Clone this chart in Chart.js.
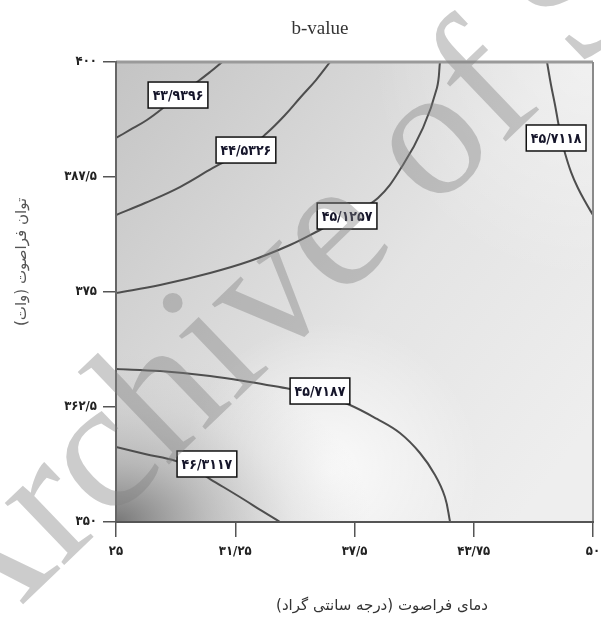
<!DOCTYPE html>
<html>
<head>
<meta charset="utf-8">
<script src="https://cdn.jsdelivr.net/npm/chart.js@4.4.1/dist/chart.umd.min.js"></script>
<style>
  html, body { margin: 0; padding: 0; background: #fff; }
  #wrap { width: 601px; height: 622px; }
</style>
</head>
<body>
<div id="wrap"><canvas id="c" width="601" height="622"></canvas></div>
<script>
// ---- axis ticks ----
const xTickValues = [25, 31.25, 37.5, 43.75, 50];
const xTickLabels = ['۲۵', '۳۱/۲۵', '۳۷/۵', '۴۳/۷۵', '۵۰'];
const yTickValues = [350, 362.5, 375, 387.5, 400];
const yTickLabels = ['۳۵۰', '۳۶۲/۵', '۳۷۵', '۳۸۷/۵', '۴۰۰'];

// ---- contour levels of b-value ----
const contourLevels = [43.9396, 44.5326, 45.1257, 45.7118, 45.7187, 46.3117];

// ---- contour lines: [temperature (°C), power (W)] ----
const contour1 = [[25, 391.74], [25.73, 392.61], [26.62, 393.70], [27.46, 395.00], [28.25, 396.41],
                  [29.25, 397.83], [29.93, 398.91], [30.56, 400]];
const contour2 = [[25, 383.37], [26.52, 384.67], [28.35, 386.41], [30.08, 388.48], [31.81, 390.43],
                  [32.91, 392.28], [33.86, 394.24], [34.64, 396.09], [35.48, 398.04], [36.22, 400]];
const contour3 = [[25, 374.89], [27.31, 375.76], [29.93, 377.07], [32.02, 378.37], [34.12, 380.11],
                  [35.69, 381.74], [37.11, 383.26], [38.73, 385.22], [40.04, 388.80], [41.09, 392.83],
                  [41.82, 397.17], [41.98, 400]];
const contour4 = [[47.59, 400], [47.80, 397.50], [48.01, 395.33], [48.17, 393.48], [48.33, 391.74],
                  [48.53, 390.11], [48.85, 388.04], [49.21, 386.30], [49.63, 384.67], [50, 383.37]];
const contour5 = [[25, 366.63], [27.31, 366.41], [29.93, 365.87], [32.02, 365.22], [34.12, 364.46],
                  [35.69, 363.91], [37.26, 362.72], [38.68, 361.20], [39.88, 359.67], [40.93, 357.50],
                  [41.72, 355.11], [42.24, 352.72], [42.51, 350]];
const contour6 = [[25, 358.15], [26.52, 357.39], [28.14, 356.63], [28.98, 355.87], [29.93, 354.67],
                  [31.66, 352.50], [32.65, 351.20], [33.60, 350]];

// vertex of each line that carries its level label
const labelVertex = [4, 4, 6, 4, 5, 3];

const contourLines = [contour1, contour2, contour3, contour4, contour5, contour6];

const FA_DIGITS = '۰۱۲۳۴۵۶۷۸۹';
const toPersian = v => String(v).replace('.', '/').replace(/[0-9]/g, d => FA_DIGITS[d]);

const NUM_FONT = "'DejaVu Sans Condensed', 'DejaVu Sans', sans-serif";
const FA_FONT = "'DejaVu Sans', sans-serif";

function fillRadial(ctx, cx, cy, r, stops) {
  const g = ctx.createRadialGradient(cx, cy, 0, cx, cy, r);
  stops.forEach(([o, c]) => g.addColorStop(o, c));
  ctx.fillStyle = g;
  ctx.fillRect(cx - r, cy - r, 2 * r, 2 * r);
}

// grey shading of the response surface behind the contour lines
const shading = {
  id: 'shading',
  beforeDraw(chart) {
    const { ctx, chartArea: a } = chart;
    ctx.save();
    ctx.fillStyle = '#ffffff';
    ctx.fillRect(0, 0, chart.width, chart.height);
    ctx.beginPath();
    ctx.rect(a.left, a.top, a.width, a.height);
    ctx.clip();
    const g = ctx.createLinearGradient(a.left, a.top, a.right, a.top + a.height * 0.78);
    g.addColorStop(0, '#c4c4c4');
    g.addColorStop(0.3, '#d4d4d4');
    g.addColorStop(0.6, '#e4e4e4');
    g.addColorStop(1, '#eeeeee');
    ctx.fillStyle = g;
    ctx.fillRect(a.left, a.top, a.width, a.height);
    // pale region in the lower middle
    fillRadial(ctx, a.left + a.width * 0.45, a.top + a.height * 0.89, 150,
      [[0, 'rgba(255,255,255,0.8)'], [1, 'rgba(255,255,255,0)']]);
    // pale upper-right corner
    fillRadial(ctx, a.right, a.top, 220,
      [[0, 'rgba(255,255,255,0.45)'], [1, 'rgba(255,255,255,0)']]);
    // dark lower-left corner
    ctx.save();
    ctx.translate(a.left, a.bottom);
    ctx.scale(1.5, 1);
    fillRadial(ctx, 0, 0, 170, [
      [0, 'rgba(110,110,110,0.92)'],
      [0.35, 'rgba(155,155,155,0.55)'],
      [0.7, 'rgba(185,185,185,0.2)'],
      [1, 'rgba(200,200,200,0)']
    ]);
    ctx.restore();
    ctx.restore();
  }
};

// plot frame
const frame = {
  id: 'frame',
  afterDatasetsDraw(chart) {
    const { ctx, chartArea: a } = chart;
    ctx.save();
    const seg = (x1, y1, x2, y2, c, w) => {
      ctx.strokeStyle = c; ctx.lineWidth = w;
      ctx.beginPath(); ctx.moveTo(x1, y1); ctx.lineTo(x2, y2); ctx.stroke();
    };
    seg(a.left, a.top, a.right, a.top, '#9a9a9a', 3);
    seg(a.right, a.top, a.right, a.bottom, '#8a8a8a', 2);
    seg(a.left, a.top - 1, a.left, a.bottom + 1, '#666666', 2);
    seg(a.left - 1, a.bottom, a.right + 1, a.bottom, '#555555', 2);
    ctx.restore();
  }
};

// boxed level labels sitting on the contour lines
const levelLabels = {
  id: 'levelLabels',
  afterDatasetsDraw(chart, args, opts) {
    const { ctx } = chart;
    const xs = chart.scales.x, ys = chart.scales.y;
    ctx.save();
    ctx.font = 'bold 14px ' + NUM_FONT;
    ctx.textAlign = 'center';
    ctx.textBaseline = 'middle';
    contourLines.forEach((pts, i) => {
      const p = pts[labelVertex[i]];
      const nudge = opts.nudge[i] || [0, 0];
      const cx = xs.getPixelForValue(p[0]) + nudge[0];
      const cy = ys.getPixelForValue(p[1]) + nudge[1];
      const text = toPersian(contourLevels[i]);
      const w = ctx.measureText(text).width + 9;
      const h = 26;
      ctx.fillStyle = '#ffffff';
      ctx.fillRect(cx - w / 2, cy - h / 2, w, h);
      ctx.strokeStyle = '#111111';
      ctx.lineWidth = 1.5;
      ctx.strokeRect(cx - w / 2, cy - h / 2, w, h);
      ctx.fillStyle = '#15152a';
      ctx.fillText(text, cx, cy + 1);
    });
    ctx.restore();
  }
};

// chart title and axis titles
const titles = {
  id: 'titles',
  afterDraw(chart) {
    const { ctx } = chart;
    ctx.save();
    ctx.textAlign = 'center';
    ctx.textBaseline = 'middle';
    ctx.fillStyle = '#333333';
    ctx.font = '19px "Liberation Serif", "Times New Roman", serif';
    ctx.fillText('b-value', 320, 29);

    ctx.direction = 'rtl';
    ctx.font = '15px ' + FA_FONT;
    ctx.fillStyle = '#333333';
    ctx.fillText('دمای فراصوت (درجه سانتی گراد)', 382, 606);

    ctx.translate(22, 262);
    ctx.rotate(-Math.PI / 2);
    ctx.fillStyle = '#555555';
    ctx.fillText('توان فراصوت (وات)', 0, 0);
    ctx.restore();
  }
};

// archive watermark across the page
const watermark = {
  id: 'watermark',
  afterDraw(chart) {
    const { ctx } = chart;
    ctx.save();
    ctx.translate(-36, 661);
    ctx.rotate(-43.8 * Math.PI / 180);
    ctx.font = '187px "Liberation Serif", "Times New Roman", serif';
    ctx.textAlign = 'left';
    ctx.textBaseline = 'alphabetic';
    ctx.fillStyle = 'rgba(128,128,128,0.4)';
    ctx.fillText('Archive of SID', 0, 0);
    ctx.restore();
  }
};

const tickFont = { family: NUM_FONT, size: 13, weight: 'bold' };

new Chart(document.getElementById('c'), {
  type: 'scatter',
  data: {
    datasets: contourLines.map((pts, i) => ({
      label: toPersian(contourLevels[i]),
      data: pts.map(([x, y]) => ({ x, y })),
      showLine: true,
      pointRadius: 0,
      borderColor: '#4e4e4e',
      borderWidth: 2,
      tension: 0.4,
      fill: false
    }))
  },
  options: {
    responsive: false,
    animation: false,
    events: [],
    layout: { padding: { left: 0, top: 62, right: 8, bottom: 0 } },
    scales: {
      x: {
        type: 'linear',
        position: 'bottom',
        min: 25, max: 50,
        afterBuildTicks: s => { s.ticks = xTickValues.map(v => ({ value: v })); },
        afterFit: s => { s.height = 100; s.paddingLeft = 0; s.paddingRight = 0; },
        ticks: {
          autoSkip: false, maxRotation: 0, padding: 7,
          color: '#222222', font: tickFont,
          callback: (v, i) => xTickLabels[i]
        },
        grid: { display: true, drawOnChartArea: false, drawTicks: true, tickLength: 15, color: '#555555', lineWidth: 1.5 },
        border: { display: false }
      },
      y: {
        type: 'linear',
        position: 'left',
        min: 350, max: 400,
        afterBuildTicks: s => { s.ticks = yTickValues.map(v => ({ value: v })); },
        afterFit: s => { s.width = 116; s.paddingTop = 0; s.paddingBottom = 0; },
        ticks: {
          autoSkip: false, padding: 6,
          color: '#222222', font: tickFont,
          callback: (v, i) => yTickLabels[i]
        },
        grid: { display: true, drawOnChartArea: false, drawTicks: true, tickLength: 13, color: '#555555', lineWidth: 1.5 },
        border: { display: false }
      }
    },
    plugins: {
      legend: { display: false },
      tooltip: { enabled: false },
      title: { display: false },
      levelLabels: { nudge: [[0, 0], [0, 0], [0, 0], [-5, 0], [0, -3], [15, -4]] }
    }
  },
  plugins: [shading, frame, levelLabels, titles, watermark]
});
</script>
</body>
</html>
